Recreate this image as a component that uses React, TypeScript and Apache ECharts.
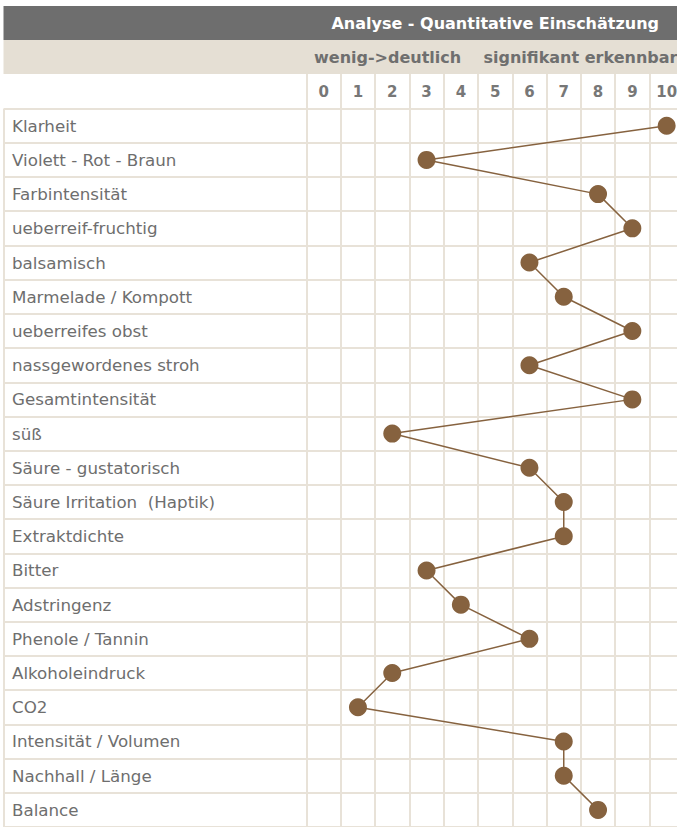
import React, { useEffect, useRef } from "react";
import * as echarts from "echarts";

const categories = [
  "Klarheit",
  "Violett - Rot - Braun",
  "Farbintensität",
  "ueberreif-fruchtig",
  "balsamisch",
  "Marmelade / Kompott",
  "ueberreifes obst",
  "nassgewordenes stroh",
  "Gesamtintensität",
  "süß",
  "Säure - gustatorisch",
  "Säure Irritation  (Haptik)",
  "Extraktdichte",
  "Bitter",
  "Adstringenz",
  "Phenole / Tannin",
  "Alkoholeindruck",
  "CO2",
  "Intensität / Volumen",
  "Nachhall / Länge",
  "Balance",
];

const values = [10, 3, 8, 9, 6, 7, 9, 6, 9, 2, 6, 7, 7, 3, 4, 6, 2, 1, 7, 7, 8];

const scaleLabels = ["0", "1", "2", "3", "4", "5", "6", "7", "8", "9", "10"];

const titleText = "Analyse - Quantitative Einschätzung";
const subtitleText = "wenig->deutlich    signifikant erkennbar";

const FONT = "DejaVu Sans";
const GRID_LINE = "#e8e2d8";
const BROWN = "#86623f";

export default function App() {
  const ref = useRef<HTMLDivElement>(null);

  useEffect(() => {
    if (!ref.current) return;
    const chart = echarts.init(ref.current, undefined, { renderer: "svg" });
    const top = 108.6;
    const rowH = 34.3;
    const height = rowH * categories.length;
    const colW = 34.3;

    chart.setOption({
      animation: false,
      backgroundColor: "#ffffff",
      textStyle: { fontFamily: FONT },
      graphic: [
        {
          type: "rect",
          shape: { x: 3.5, y: 6, width: 720, height: 34 },
          style: { fill: "#6e6e6e" },
        },
        {
          type: "rect",
          shape: { x: 3.5, y: 40, width: 720, height: 34 },
          style: { fill: "#e5dfd4" },
        },
        {
          type: "text",
          x: 659,
          y: 23,
          style: {
            text: titleText,
            fill: "#ffffff",
            font: `bold 16px "${FONT}"`,
            align: "right",
            verticalAlign: "middle",
          },
        },
        {
          type: "text",
          x: 314,
          y: 57.5,
          style: {
            text: subtitleText,
            fill: "#6f6f6f",
            font: `bold 16px "${FONT}"`,
            align: "left",
            verticalAlign: "middle",
          },
        },
      ],
      grid: [
        { left: 306.5, top, width: colW * 11, height, containLabel: false },
        { left: 4, top, width: 302.5, height, containLabel: false },
      ],
      xAxis: [
        {
          type: "category",
          gridIndex: 0,
          position: "top",
          data: scaleLabels,
          boundaryGap: true,
          axisLine: { show: true, lineStyle: { color: GRID_LINE, width: 2 } },
          axisTick: {
            show: true,
            interval: 0,
            length: 34.5,
            lineStyle: { color: GRID_LINE, width: 2 },
          },
          axisLabel: {
            interval: 0,
            margin: 17,
            verticalAlign: "middle",
            color: "#777777",
            fontWeight: "bold",
            fontSize: 15,
            fontFamily: FONT,
          },
          splitLine: {
            show: true,
            interval: 0,
            lineStyle: { color: GRID_LINE, width: 2 },
          },
        },
        {
          type: "value",
          gridIndex: 1,
          min: 0,
          max: 1,
          interval: 1,
          axisLine: { show: false },
          axisTick: { show: false },
          axisLabel: { show: false },
          splitLine: { show: true, lineStyle: { color: GRID_LINE, width: 2 } },
        },
      ],
      yAxis: [
        {
          type: "category",
          gridIndex: 0,
          data: categories,
          inverse: true,
          boundaryGap: true,
          axisLine: { show: false },
          axisTick: { show: false },
          axisLabel: { show: false },
          splitLine: {
            show: true,
            interval: 0,
            lineStyle: { color: GRID_LINE, width: 2 },
          },
        },
        {
          type: "category",
          gridIndex: 1,
          data: categories,
          inverse: true,
          boundaryGap: true,
          axisLine: { show: false },
          axisTick: { show: false },
          axisLabel: {
            interval: 0,
            align: "left",
            margin: -8,
            color: "#6e6e6e",
            fontSize: 16.7,
            fontFamily: FONT,
          },
          splitLine: {
            show: true,
            interval: 0,
            lineStyle: { color: GRID_LINE, width: 2 },
          },
        },
      ],
      series: [
        {
          type: "line",
          xAxisIndex: 0,
          yAxisIndex: 0,
          data: values.map((v, i) => [v, i]),
          symbol: "circle",
          symbolSize: 18,
          clip: false,
          lineStyle: { color: BROWN, width: 1.5 },
          itemStyle: { color: BROWN },
        },
      ],
    });

    return () => chart.dispose();
  }, []);

  return (
    <div
      style={{
        position: "absolute",
        left: 0,
        top: 0,
        width: 677,
        height: 827,
        overflow: "hidden",
      }}
    >
      <div ref={ref} style={{ width: 720, height: 827 }} />
    </div>
  );
}
